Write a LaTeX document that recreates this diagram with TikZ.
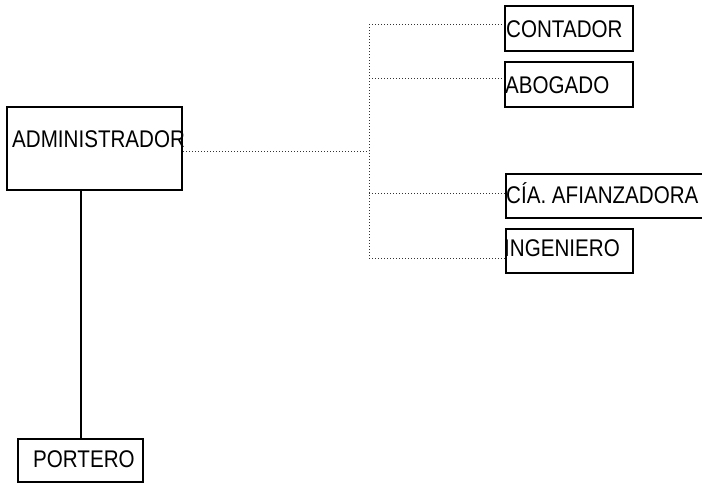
\documentclass[tikz,border=0pt]{standalone}
\usepackage{fontspec}
\setmainfont{Liberation Sans}
\usetikzlibrary{calc}
\newcommand{\tall}[1]{\scalebox{1}[1.17]{#1}}

\begin{document}
\begin{tikzpicture}[x=1pt,y=-1pt,
  box/.style={draw,line width=2pt,inner sep=0pt},
  txt/.style={anchor=base west,inner sep=0pt,font=\fontsize{20.6}{24}\selectfont},
  link/.style={black!80,line width=1pt,dash pattern=on 1pt off 2pt}]
\useasboundingbox (0,0) rectangle (702,483);
% boxes
\node[box,minimum width=175pt,minimum height=83pt] (admin) at (94.5,148.5) {};
\node[box,minimum width=125pt,minimum height=43pt] (portero) at (80.5,460.5) {};
\node[box,minimum width=128pt,minimum height=45pt] (contador) at (569,28.5) {};
\node[box,minimum width=128pt,minimum height=45pt] (abogado) at (569,84.5) {};
\node[box,minimum width=200pt,minimum height=44pt] (cia) at (606,196) {};
\node[box,minimum width=127pt,minimum height=44pt] (ingeniero) at (569.5,251) {};
% texts
\node[txt] (admintxt) at (12,147) {\tall{ADMINISTRADOR}};
\node[txt] (porterotxt) at (33,467) {\tall{PORTERO}};
\node[txt] (contadortxt) at (506,37) {\tall{CONTADOR}};
\node[txt] (abogadotxt) at (505,93) {\tall{ABOGADO}};
\node[txt] (ciatxt) at (506,203) {\tall{CÍA. AFIANZADORA}};
\node[txt] (ingenierotxt) at (504,256) {\tall{INGENIERO}};
% solid line down
\draw[line width=2pt] (portero.north) -- (portero.north |- admin.south);
% dotted lines
\coordinate (top) at (369,24);
\coordinate (hub) at (369,151);
\coordinate (s2) at (369,78);
\coordinate (s3) at (369,193);
\coordinate (bot) at (369,258);
\draw[link] (top) -- (bot);
\draw[link] (hub -| admin.east) -- (hub);
\draw[link] (top) -- (top -| contador.west);
\draw[link] (s2) -- (s2 -| abogado.west);
\draw[link] (s3) -- (s3 -| cia.west);
\draw[link] (bot) -- (bot -| ingeniero.west);
\end{tikzpicture}
\end{document}
